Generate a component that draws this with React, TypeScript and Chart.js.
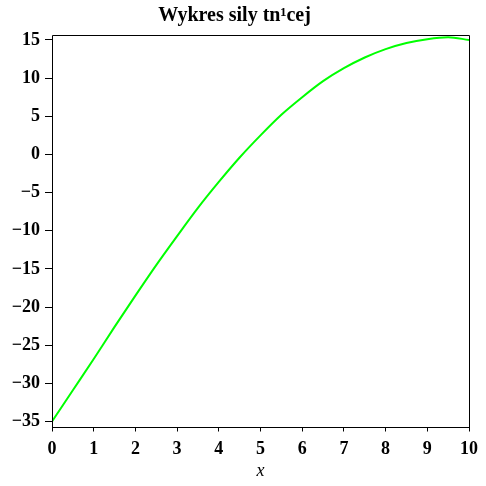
import { useEffect, useRef } from 'react';
import { Chart, registerables } from 'chart.js';

Chart.register(...registerables);

const chartTitle = 'Wykres sily tn¹cej';
const xAxisTitle = 'x';

const xValues = [0, 0.5, 1, 1.5, 2, 2.5, 3, 3.5, 4, 4.5, 5, 5.5, 6, 6.5, 7, 7.5, 8, 8.5, 9, 9.5, 10];
const shearValues = [
  -35, -30.9, -26.8, -22.6, -18.5, -14.5, -10.7, -7.0, -3.6, -0.4,
  2.5, 5.2, 7.5, 9.6, 11.3, 12.7, 13.8, 14.6, 15.1, 15.35, 15.0,
];

const xTickValues = [0, 1, 2, 3, 4, 5, 6, 7, 8, 9, 10];
const yTickValues = [-35, -30, -25, -20, -15, -10, -5, 0, 5, 10, 15];

const xMin = 0;
const xMax = 10;
const yMin = -35.65;
const yMax = 15.65;

const lineColor = '#00ff00';
const fontFamily = '"Liberation Serif", "Times New Roman", serif';

const framePlugin = {
  id: 'frame',
  afterDraw(chart: any) {
    const { ctx, chartArea } = chart;
    const l = Math.round(chartArea.left) + 0.5;
    const r = Math.round(chartArea.right) + 0.5;
    const t = Math.round(chartArea.top) + 0.5;
    const b = Math.round(chartArea.bottom) + 0.5;
    ctx.save();
    ctx.strokeStyle = '#000';
    ctx.lineWidth = 1;
    ctx.beginPath();
    ctx.rect(l, t, r - l, b - t);
    ctx.stroke();
    ctx.restore();
  },
};

export default function App() {
  const canvasRef = useRef<HTMLCanvasElement | null>(null);

  useEffect(() => {
    document.body.style.margin = '0';
    const canvas = canvasRef.current;
    if (!canvas) return;
    const chart = new Chart(canvas, {
      type: 'line',
      data: {
        datasets: [
          {
            data: xValues.map((x, i) => ({ x, y: shearValues[i] })),
            borderColor: lineColor,
            backgroundColor: lineColor,
            borderWidth: 2,
            pointRadius: 0,
            cubicInterpolationMode: 'monotone',
            fill: false,
          },
        ],
      },
      options: {
        responsive: false,
        animation: false,
        devicePixelRatio: 1,
        layout: { padding: { left: 0, right: 17, top: 0, bottom: 0 } },
        plugins: {
          legend: { display: false },
          tooltip: { enabled: false },
          title: {
            display: true,
            text: chartTitle,
            color: '#000',
            font: { family: fontFamily, size: 20, weight: 'bold' },
            padding: { top: 4, bottom: 7 },
          },
        },
        scales: {
          x: {
            type: 'linear',
            min: xMin,
            max: xMax,
            afterBuildTicks: (scale: any) => {
              scale.ticks = xTickValues.map((v) => ({ value: v }));
            },
            afterFit: (scale: any) => {
              scale.height = 59.5;
            },
            grid: {
              display: true,
              drawOnChartArea: false,
              drawTicks: true,
              tickLength: 5,
              color: '#000',
              lineWidth: 1,
            },
            border: { display: false },
            ticks: {
              color: '#000',
              font: { family: fontFamily, size: 18, weight: 'bold' },
              padding: 7,
              maxRotation: 0,
              autoSkip: false,
            },
            title: {
              display: true,
              text: xAxisTitle,
              color: '#000',
              font: { family: fontFamily, size: 18, style: 'italic' },
              padding: { top: 0, bottom: 4 },
            },
          },
          y: {
            type: 'linear',
            min: yMin,
            max: yMax,
            afterBuildTicks: (scale: any) => {
              scale.ticks = yTickValues.map((v) => ({ value: v }));
            },
            afterFit: (scale: any) => {
              scale.width = 52;
            },
            grid: {
              display: true,
              drawOnChartArea: false,
              drawTicks: true,
              tickLength: 7,
              color: '#000',
              lineWidth: 1,
            },
            border: { display: false },
            ticks: {
              color: '#000',
              font: { family: fontFamily, size: 18, weight: 'bold' },
              padding: 5,
              autoSkip: false,
              callback: (v: any) => (Number(v) < 0 ? '\u2212' + Math.abs(Number(v)) : String(v)),
            },
          },
        },
      },
      plugins: [framePlugin],
    });
    return () => chart.destroy();
  }, []);

  return <canvas ref={canvasRef} width={486} height={486} style={{ display: 'block', width: 486, height: 486 }} />;
}
